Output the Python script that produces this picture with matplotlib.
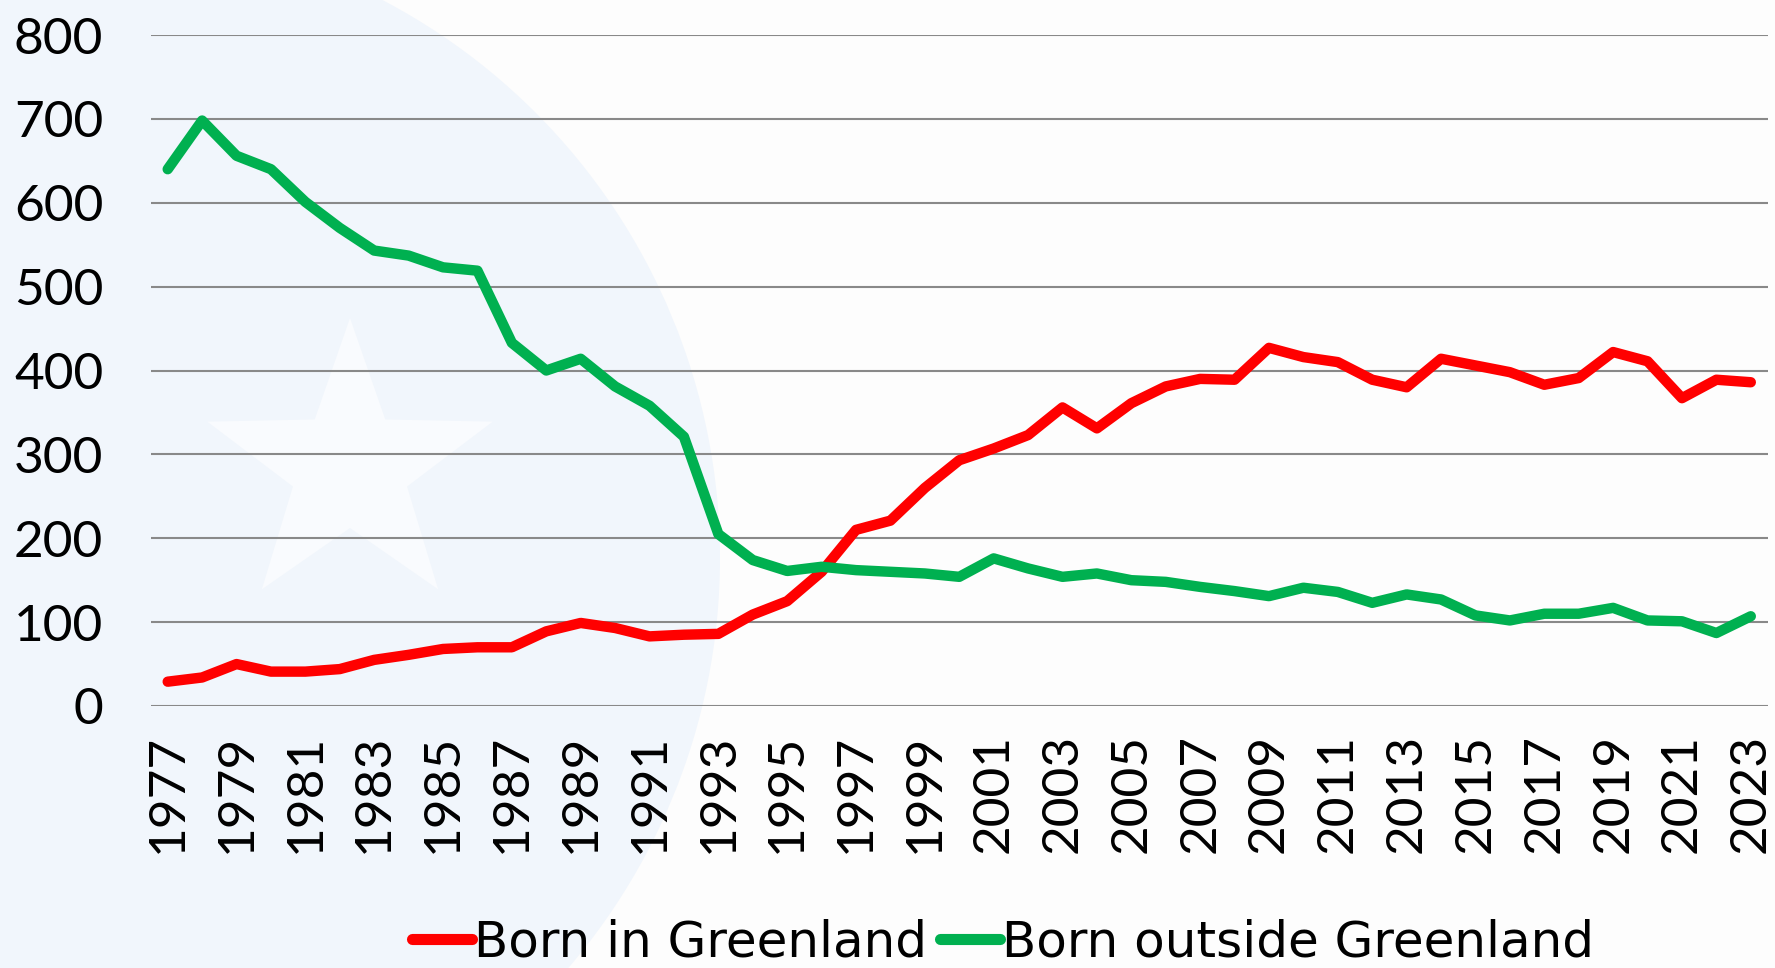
import matplotlib
matplotlib.use("Agg")
import numpy as np
import matplotlib.pyplot as plt
from matplotlib.patches import Circle, Polygon

# === DATA ===
years = list(range(1977, 2024))
born_in = [29, 34, 50, 41, 41, 44, 55, 61, 68, 70,
           70, 89, 99, 93, 83, 85, 86, 109, 125, 160,
           210, 221, 260, 293, 307, 323, 356, 331, 361, 381,
           390, 389, 427, 416, 410, 389, 380, 414, 406, 398,
           383, 391, 422, 411, 367, 389, 386]
born_outside = [640, 698, 656, 640, 601, 570, 543, 537, 523, 519,
                433, 400, 414, 381, 358, 321, 205, 174, 161, 166,
                162, 160, 158, 154, 176, 164, 154, 158, 150, 148,
                142, 137, 131, 141, 136, 123, 133, 127, 108, 102,
                110, 110, 117, 102, 101, 87, 107]
yticks = [0, 100, 200, 300, 400, 500, 600, 700, 800]

plt.rcParams['font.family'] = ['Lato', 'DejaVu Sans']

W, H = 1775, 968
fig = plt.figure(figsize=(W / 100, H / 100), dpi=100, facecolor='#fdfdfd')

# === faint watermark (left side), in inches so it stays round ===
fig.patches.append(Circle((0.9, 4.1), 6.3, transform=fig.dpi_scale_trans,
                          facecolor='#f1f6fc', edgecolor='none', zorder=-10))
cx, cy, r1, r2 = 3.5, 5.0, 1.5, 0.6
ang = np.pi / 2 + np.arange(10) * np.pi / 5
rad = np.where(np.arange(10) % 2 == 0, r1, r2)
star_xy = np.column_stack([cx + rad * np.cos(ang), cy + rad * np.sin(ang)])
fig.patches.append(Polygon(star_xy, closed=True, transform=fig.dpi_scale_trans,
                           facecolor='#f9fbfe', edgecolor='none', zorder=-9))

# === PLOT ===
ax = fig.add_axes([150.5 / W, 262 / H, 1617.5 / W, 671 / H])
ax.patch.set_alpha(0)

x = list(range(len(years)))
ax.plot(x, born_in, color='#ff0000', lw=7.5, solid_capstyle='round', solid_joinstyle='round',
        label='Born in Greenland', zorder=3)
ax.plot(x, born_outside, color='#00b050', lw=7.5, solid_capstyle='round', solid_joinstyle='round',
        label='Born outside Greenland', zorder=3)

ax.set_ylim(0, 800)
ax.set_xlim(-0.5, len(years) - 0.5)
ax.set_yticks(yticks)
ax.set_xticks(x[::2])
ax.set_xticklabels([str(y) for y in years[::2]], rotation=90)
ax.grid(axis='y', color='#898989', lw=1.5)
ax.set_axisbelow(True)
for s in ax.spines.values():
    s.set_visible(False)
ax.tick_params(length=0, labelsize=37)
ax.tick_params(axis='y', pad=34)
ax.tick_params(axis='x', pad=20)

leg = fig.legend(loc='center', bbox_to_anchor=(0.565, 0.026), ncol=2, frameon=False,
                 prop={'family': 'DejaVu Sans', 'size': 36},
                 handlelength=1.2, handletextpad=0.05, columnspacing=0.25)
for h in leg.get_lines():
    h.set_linewidth(8)

fig.savefig('out.png', dpi=100, facecolor=fig.get_facecolor())
